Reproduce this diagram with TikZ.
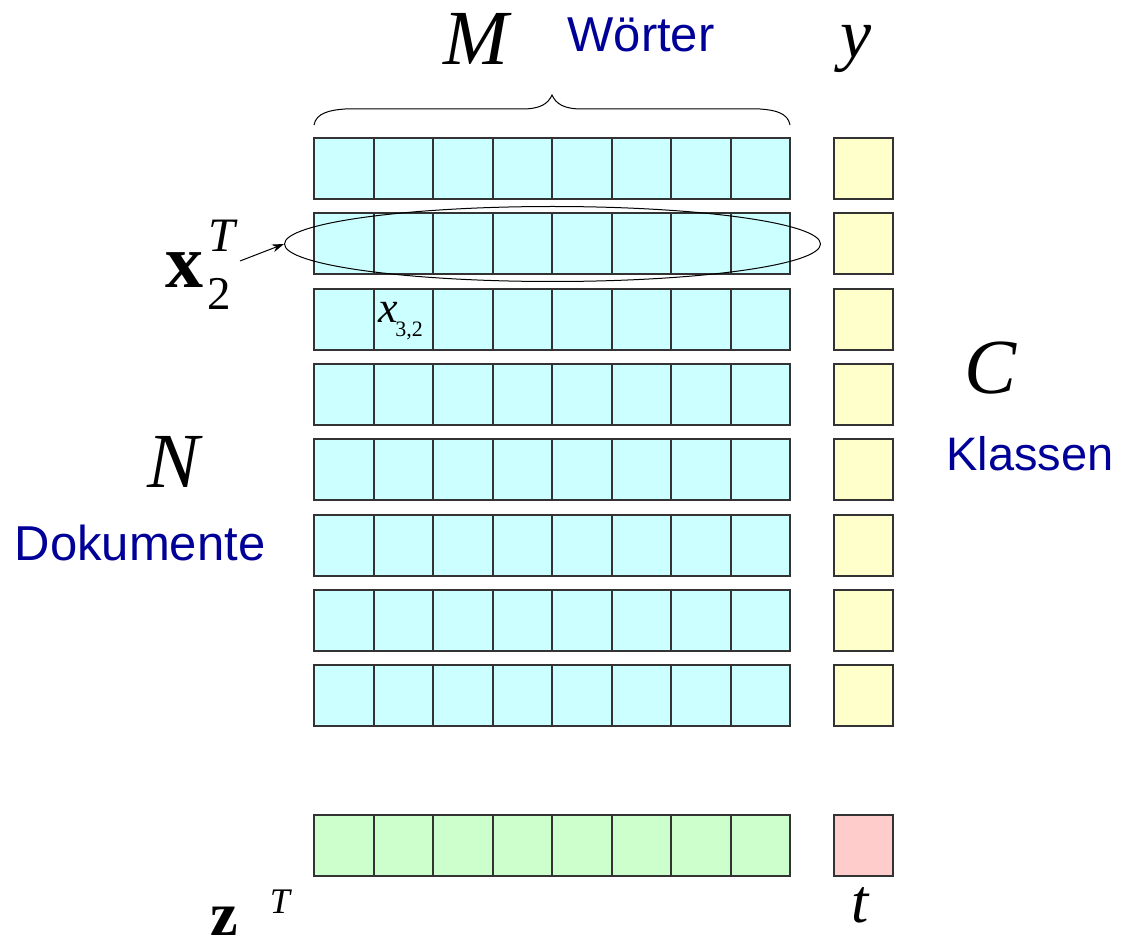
\documentclass[tikz,border=0pt]{standalone}
\usepackage{fontspec}
\setmainfont{Liberation Serif}
\newfontfamily\arial{Liberation Sans}
\usetikzlibrary{shapes.geometric,arrows.meta}
\definecolor{cyanfill}{HTML}{CCFFFF}
\definecolor{yellowfill}{HTML}{FFFFCC}
\definecolor{greenfill}{HTML}{CCFFCC}
\definecolor{redfill}{HTML}{FFCCCC}
\definecolor{edgegray}{HTML}{333333}
\definecolor{labelblue}{HTML}{000099}
\newcommand\myfs[1]{\fontsize{#1}{#1}\selectfont}
\tikzset{
  cellbox/.style={draw=edgegray, line width=1.5pt, minimum height=61pt, inner sep=0pt, outer sep=0pt},
  cyancell/.style={cellbox, fill=cyanfill},
  yellowcell/.style={cellbox, fill=yellowfill, minimum width=59pt},
  greencell/.style={cellbox, fill=greenfill},
  redcell/.style={cellbox, fill=redfill, minimum width=59pt},
  mathlbl/.style={inner sep=0pt, anchor=base, font=\myfs{78}\itshape},
  bluelbl/.style={inner sep=0pt, anchor=base, text=labelblue, font=\arial\myfs{49}},
  txt/.style={inner sep=0pt, anchor=base}
}
\begin{document}
\begin{tikzpicture}[x=1pt,y=-1pt]
\useasboundingbox (0,0) rectangle (1124,949);
% matrix cells
\foreach \r in {1,...,8}{
  \pgfmathtruncatemacro\yt{138+75.3*(\r-1)+0.5}
  \foreach \c in {1,...,8}{
    \pgfmathtruncatemacro\xl{314+59.5*(\c-1)+0.5}
    \pgfmathtruncatemacro\xr{314+59.5*\c+0.5}
    \node[cyancell, minimum width={\xr-\xl}] (c\r-\c) at ({(\xl+\xr)/2}, {\yt+30.5}) {};
  }
  \node[yellowcell] (y\r) at (863.5, {\yt+30.5}) {};
}
% bottom row
\foreach \c in {1,...,8}{
  \pgfmathtruncatemacro\xl{314+59.5*(\c-1)+0.5}
  \pgfmathtruncatemacro\xr{314+59.5*\c+0.5}
  \node[greencell, minimum width={\xr-\xl}] (z\c) at ({(\xl+\xr)/2}, 845.5) {};
}
\node[redcell] (t) at (863.5, 845.5) {};
% ellipse around row 2
\node[draw=black, line width=1pt, ellipse, minimum width=536pt, minimum height=75pt, inner sep=0pt] (ell) at (552.5,244) {};
% brace
\draw[line width=1pt] (314,125) .. controls (316,113) and (330,110) .. (345,109) -- (522,109)
  .. controls (540,109) and (548,104) .. (552,95)
  .. controls (556,104) and (564,109) .. (582,109) -- (760,109)
  .. controls (775,110) and (788,113) .. (790,125);
% labels
\node[mathlbl] (M) at (476,65) {M};
\node[bluelbl] (woerter) at (641,52) {Wörter};
\node[mathlbl, font=\myfs{70}\itshape] (ylbl) at (856,58) {y};
\node[mathlbl] (N) at (174,487) {N};
\node[bluelbl] (dok) at (140,560) {Dokumente};
\node[mathlbl] (C) at (990,393) {C};
\node[bluelbl, font=\arial\myfs{47}] (klassen) at (1030,470) {Klassen};
\node[mathlbl, font=\myfs{62}\itshape] (tlbl) at (860,922) {t};
\node[txt, font=\myfs{62}\bfseries] (zlbl) at (224,935) {z};
\node[txt, font=\myfs{36}\itshape] (zT) at (280,913) {T};
\node[txt, font=\myfs{76}\bfseries] (x2) at (184,288) {x};
\node[txt, font=\myfs{48}\itshape] (x2T) at (222,252) {T};
\node[txt, font=\myfs{47}] (x2s) at (219,310) {2};
\node[txt, font=\myfs{44}\itshape] (x32) at (388,323) {x};
\node[txt, font=\myfs{22}] (x32s) at (409,337) {3,2};
% arrow
\coordinate (atail) at (240,261);
\draw[line width=1pt, -{Stealth[length=12pt,width=8pt]}] (atail) -- (ell.west);
\end{tikzpicture}
\end{document}
